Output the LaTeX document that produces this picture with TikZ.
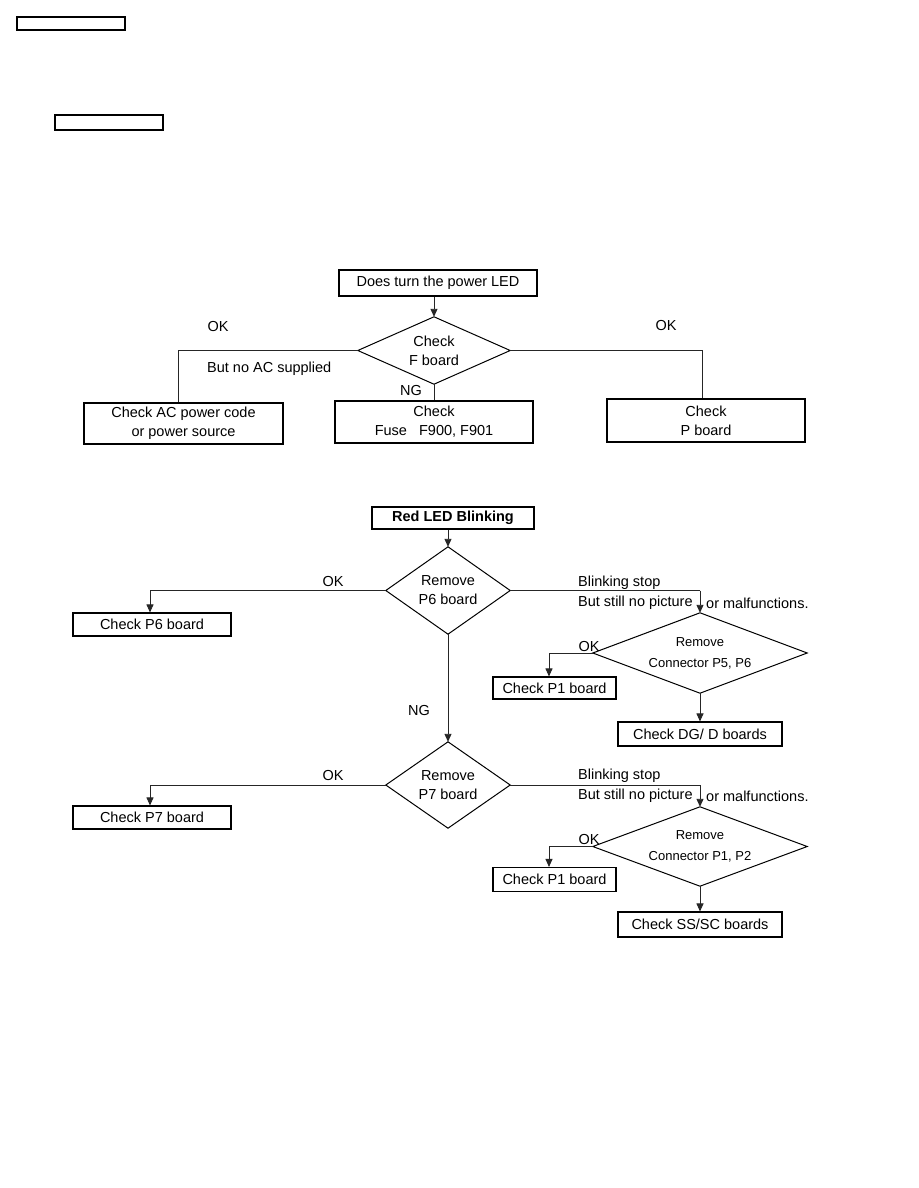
\documentclass[tikz,border=0pt]{standalone}
\usepackage{fontspec}
\setmainfont{Liberation Sans}
\usetikzlibrary{arrows.meta}
\tikzset{
  box/.style={draw=black,line width=1.1pt,rectangle,inner sep=0pt,align=center,font=\fontsize{14.5}{19}\selectfont},
  dia/.style={rectangle,inner sep=0pt,align=center,font=\fontsize{14.5}{19}\selectfont},
  sdia/.style={dia,font=\fontsize{13}{21}\selectfont},
  diaedge/.style={draw=black,line width=1pt,line join=miter},
  conn/.style={draw=black!85,line width=0.9pt},
  arr/.style={conn,-{Triangle[length=8pt,width=7pt]}},
  lbl/.style={inner sep=0pt,font=\fontsize{14.5}{16}\selectfont}
}
\newcommand{\diamondof}[1]{\draw[diaedge] (#1.north) -- (#1.east) -- (#1.south) -- (#1.west) -- cycle;}
\begin{document}
\begin{tikzpicture}[x=1pt,y=-1pt]
\useasboundingbox[fill=white] (0,0) rectangle (918,1188);
% header boxes
\node[box,minimum width=108pt,minimum height=13pt] (hdr1) at (71,23.5) {};
\node[box,minimum width=108pt,minimum height=15pt] (hdr2) at (109,122.5) {};

% ---- section 1 ----
\node[box,minimum width=198pt,minimum height=26pt] (led) at (438,283) {Does turn the power LED};
\node[dia,minimum width=152pt,minimum height=67pt] (fdia) at (434,350.5) {Check\\F board};
\diamondof{fdia}
\node[box,minimum width=199pt,minimum height=41pt] (ac) at (183.5,423.5) {Check AC power code\\or power source};
\node[box,minimum width=198pt,minimum height=42pt] (fuse) at (434,422) {Check\\Fuse\ \ \ F900,\ F901};
\node[box,minimum width=198pt,minimum height=43pt] (pb) at (706,420.5) {Check\\P board};
\coordinate (c1) at (178,350.5);
\coordinate (c2) at (702,350.5);
\draw[arr] (led.south -| fdia.north) -- (fdia.north);
\draw[conn] (fdia.west) -- (c1) -- (c1 |- ac.north);
\draw[conn] (fdia.south) -- (fuse.north);
\draw[conn] (fdia.east) -- (c2) -- (c2 |- pb.north);
\node[lbl] (ok1) at (218,327) {OK};
\node[lbl,anchor=west] (noac) at (207,369) {But no AC supplied};
\node[lbl] (ng1) at (411,391) {NG};
\node[lbl] (ok2) at (666,326) {OK};

% ---- section 2 ----
\node[box,minimum width=162pt,minimum height=22pt,font=\fontsize{14.5}{16}\selectfont\bfseries] (red) at (453,518) {Red LED Blinking};
\node[dia,minimum width=124pt,minimum height=87pt] (p6dia) at (448,590.5) {Remove\\P6 board};
\diamondof{p6dia}
\node[box,minimum width=158pt,minimum height=23pt] (p6b) at (152,624.5) {Check P6 board};
\node[sdia,minimum width=214pt,minimum height=80pt] (c56) at (700,653) {Remove\\Connector P5, P6};
\diamondof{c56}
\node[box,minimum width=123pt,minimum height=22pt] (p1a) at (554.5,688) {Check P1 board};
\node[box,minimum width=164pt,minimum height=24pt] (dg) at (700,734) {Check DG/ D boards};
\coordinate (c3) at (150,590.5);
\coordinate (c4) at (700,590.5);
\coordinate (c5) at (549,653);
\draw[arr] (red.south -| p6dia.north) -- (p6dia.north);
\draw[conn] (p6dia.west) -- (c3);
\draw[arr] (c3) -- (c3 |- p6b.north);
\draw[conn] (p6dia.east) -- (c4);
\draw[arr] (c4) -- (c56.north);
\draw[conn] (c56.west) -- (c5);
\draw[arr] (c5) -- (c5 |- p1a.north);
\draw[arr] (c56.south) -- (dg.north);
\node[lbl] (ok3) at (333,582) {OK};
\node[lbl,anchor=west] (bs1) at (578,583) {Blinking stop};
\node[lbl,anchor=west] (bp1) at (578,603) {But still no picture};
\node[lbl,anchor=west] (om1) at (706,603) {or malfunctions.};
\node[lbl] (ok4) at (589,647) {OK};

% NG connection
\node[dia,minimum width=124pt,minimum height=86pt] (p7dia) at (448,785) {Remove\\P7 board};
\diamondof{p7dia}
\draw[arr] (p6dia.south) -- (p7dia.north);
\node[lbl] (ng2) at (419,711) {NG};

% ---- section 3 ----
\node[box,minimum width=158pt,minimum height=23pt] (p7b) at (152,817.5) {Check P7 board};
\node[sdia,minimum width=214pt,minimum height=79pt] (c12) at (700,846.5) {Remove\\Connector P1, P2};
\diamondof{c12}
\node[box,minimum width=123pt,minimum height=24pt] (p1b) at (554.5,879.5) {Check P1 board};
\node[box,minimum width=164pt,minimum height=25pt] (ss) at (700,924.5) {Check SS/SC boards};
\coordinate (c6) at (150,785);
\coordinate (c7) at (700,785);
\coordinate (c8) at (549,846.5);
\draw[conn] (p7dia.west) -- (c6);
\draw[arr] (c6) -- (c6 |- p7b.north);
\draw[conn] (p7dia.east) -- (c7);
\draw[arr] (c7) -- (c12.north);
\draw[conn] (c12.west) -- (c8);
\draw[arr] (c8) -- (c8 |- p1b.north);
\draw[arr] (c12.south) -- (ss.north);
\node[lbl] (ok5) at (333,775) {OK};
\node[lbl,anchor=west] (bs2) at (578,776) {Blinking stop};
\node[lbl,anchor=west] (bp2) at (578,796) {But still no picture};
\node[lbl,anchor=west] (om2) at (706,796) {or malfunctions.};
\node[lbl] (ok6) at (589,839) {OK};
\end{tikzpicture}
\end{document}
